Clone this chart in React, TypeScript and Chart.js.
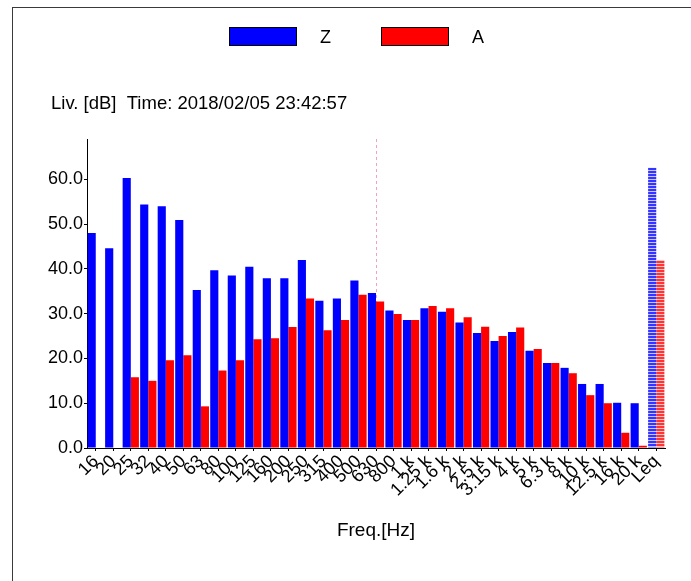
import React, { useEffect, useRef } from "react";
import { Chart, registerables } from "chart.js";

Chart.register(...registerables);

const categories = ["16", "20", "25", "32", "40", "50", "63", "80", "100", "125", "160", "200", "250", "315", "400", "500", "630", "800", "1 k", "1.25 k", "1.6 k", "2 k", "2.5 k", "3.15 k", "4 k", "5 k", "6.3 k", "8 k", "10 k", "12.5 k", "16 k", "20 k", "Leq"];
const zValues = [48.0, 44.6, 60.3, 54.4, 54.0, 50.9, 35.3, 39.7, 38.5, 40.5, 37.9, 37.9, 42.0, 32.9, 33.4, 37.4, 34.6, 30.7, 28.6, 31.2, 30.4, 28.0, 25.7, 23.9, 25.9, 21.7, 19.0, 17.9, 14.3, 14.3, 10.1, 10.0, 62.6];
const aValues = [null, null, 15.8, 15.0, 19.6, 20.7, 9.3, 17.3, 19.6, 24.3, 24.5, 27.0, 33.4, 26.3, 28.6, 34.2, 32.7, 29.9, 28.6, 31.7, 31.2, 29.2, 27.1, 25.0, 26.9, 22.1, 19.0, 16.7, 11.8, 10.0, 3.4, 0.5, 42.0];
const yTicks = [0, 5, 10, 15, 20, 25, 30, 35, 40, 45, 50, 55, 60, 65];
const yMin = 0;
const yMax = 69;
const seriesNames = ["Z", "A"];
const totalCategory = "Leq";
const cursorCategory = "630";
const titleText = "Liv. [dB]  Time: 2018/02/05 23:42:57";
const xTitleText = "Freq.[Hz]";

const FONT_FAMILY = '"Liberation Sans", Arial, sans-serif';
const BLUE = "#0000ff";
const RED = "#ff0000";

function makeStripe(ctx: CanvasRenderingContext2D, c1: string, c2: string) {
  const cv = document.createElement("canvas");
  cv.width = 1;
  cv.height = 3;
  const g = cv.getContext("2d")!;
  g.fillStyle = c1;
  g.fillRect(0, 0, 1, 2);
  g.fillStyle = c2;
  g.fillRect(0, 2, 1, 1);
  return ctx.createPattern(cv, "repeat");
}

const decorPlugin = {
  id: "decor",
  beforeDraw(chart: any) {
    const ctx = chart.ctx;
    ctx.save();
    ctx.fillStyle = "#3a3a3a";
    ctx.fillRect(12, 7, chart.width - 12, 1);
    ctx.fillRect(12, 7, 1, chart.height - 7);
    ctx.restore();
  },
  beforeDatasetsDraw(chart: any) {
    const ctx = chart.ctx;
    const xs = chart.scales.x;
    const idx = categories.indexOf(cursorCategory);
    const x = Math.round(xs.getPixelForValue(idx)) + 0.5;
    ctx.save();
    ctx.strokeStyle = "#f4a0c4";
    ctx.lineWidth = 1;
    ctx.setLineDash([3, 3]);
    ctx.beginPath();
    ctx.moveTo(x, chart.chartArea.top);
    ctx.lineTo(x, chart.chartArea.bottom);
    ctx.stroke();
    ctx.restore();
  },
  afterDraw(chart: any) {
    const ctx = chart.ctx;
    ctx.save();
    // legend
    ctx.font = `18px ${FONT_FAMILY}`;
    ctx.textBaseline = "middle";
    ctx.textAlign = "left";
    chart.data.datasets.forEach((ds: any, i: number) => {
      const bx = 229 + i * 152;
      ctx.fillStyle = ds.legendColor;
      ctx.fillRect(bx, 27, 68, 19);
      ctx.strokeStyle = "#000";
      ctx.lineWidth = 1;
      ctx.strokeRect(bx + 0.5, 27.5, 67, 18);
      ctx.fillStyle = "#000";
      ctx.fillText(ds.label, bx + 91, 38);
    });
    // title
    ctx.font = `18.5px ${FONT_FAMILY}`;
    ctx.fillText(titleText, 51, 104);
    // x title
    ctx.font = `19px ${FONT_FAMILY}`;
    ctx.textAlign = "center";
    const ca = chart.chartArea;
    ctx.fillText(xTitleText, (ca.left + ca.right) / 2, 531);
    ctx.restore();
  },
};

export default function App() {
  const ref = useRef<HTMLCanvasElement>(null);
  useEffect(() => {
    const canvas = ref.current!;
    const ctx = canvas.getContext("2d")!;
    const zPat = makeStripe(ctx, "#3535ff", "#c4c4ff");
    const aPat = makeStripe(ctx, "#ff3535", "#ffc4c4");
    const tickFont = { family: FONT_FAMILY, size: 18 };
    const xTickFont = { family: FONT_FAMILY, size: 18 };
    const chart = new Chart(canvas, {
      type: "bar",
      data: {
        labels: categories,
        datasets: [
          {
            label: seriesNames[0],
            data: zValues,
            backgroundColor: categories.map((c) => (c === totalCategory ? zPat : BLUE)),
            legendColor: BLUE,
            borderWidth: 0,
          } as any,
          {
            label: seriesNames[1],
            data: aValues,
            backgroundColor: categories.map((c) => (c === totalCategory ? aPat : RED)),
            legendColor: RED,
            borderWidth: 0,
          } as any,
        ],
      },
      options: {
        animation: false,
        responsive: false,
        maintainAspectRatio: false,
        devicePixelRatio: 1,
        layout: { padding: { left: 0, top: 139, right: 26, bottom: 0 } },
        datasets: { bar: { categoryPercentage: 0.93, barPercentage: 1.0 } },
        plugins: {
          legend: { display: false },
          title: { display: false },
          tooltip: { enabled: false },
        },
        scales: {
          x: {
            offset: true,
            grid: { offset: false, drawOnChartArea: false, tickLength: 3, color: "#000" },
            border: { color: "#000", width: 1 },
            ticks: {
              autoSkip: false,
              maxRotation: 45,
              minRotation: 45,
              font: xTickFont,
              color: "#000",
              padding: 0,
            },
            afterFit: (scale: any) => {
              scale.height = 133;
            },
          },
          y: {
            min: yMin,
            max: yMax,
            afterBuildTicks: (scale: any) => {
              scale.ticks = yTicks.map((v) => ({ value: v }));
            },
            afterFit: (scale: any) => {
              scale.width = 87;
            },
            grid: { drawOnChartArea: false, tickLength: 3, color: "#000" },
            border: { color: "#000", width: 1 },
            ticks: {
              font: tickFont,
              color: "#000",
              padding: 1,
              callback: (v: any) => (Number(v) % 10 === 0 ? Number(v).toFixed(1) : ""),
            },
          },
        },
      },
      plugins: [decorPlugin],
    });
    return () => chart.destroy();
  }, []);
  return (
    <div style={{ position: "absolute", left: 0, top: 0, width: 691, height: 581, background: "#fff" }}>
      <canvas ref={ref} width={691} height={581} style={{ display: "block", width: 691, height: 581 }} />
    </div>
  );
}
